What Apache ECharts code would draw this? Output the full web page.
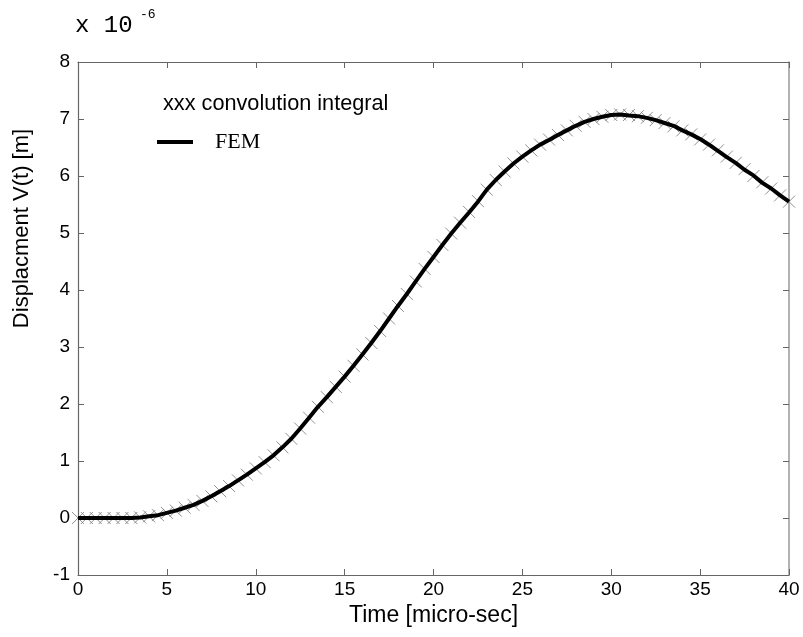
<!DOCTYPE html>
<html>
<head>
<meta charset="utf-8">
<title>Displacement V(t)</title>
<script src="https://cdn.jsdelivr.net/npm/echarts@6/dist/echarts.min.js"></script>
<style>
  html, body { margin: 0; padding: 0; background: #fff; }
  #chart { width: 803px; height: 637px; }
</style>
</head>
<body>
<div id="chart"></div>
<script>
// time axis, step 0.5 micro-sec
var timeValues = [];
for (var i = 0; i <= 80; i++) timeValues.push(i * 0.5);

// FEM displacement, units of 1e-6 m
var femValues = [
  0.00, 0.00, 0.00, 0.00, 0.00, 0.00, 0.00, 0.01, 0.03, 0.05,
  0.09, 0.13, 0.18, 0.23, 0.30, 0.38, 0.47, 0.56, 0.66, 0.76,
  0.87, 0.98, 1.10, 1.24, 1.39, 1.57, 1.76, 1.95, 2.12, 2.30,
  2.48, 2.67, 2.87, 3.07, 3.28, 3.50, 3.72, 3.93, 4.15, 4.37,
  4.58, 4.79, 4.99, 5.18, 5.36, 5.55, 5.76, 5.93, 6.08, 6.22,
  6.34, 6.45, 6.55, 6.63, 6.72, 6.80, 6.88, 6.95, 7.00, 7.04,
  7.07, 7.08, 7.06, 7.05, 7.02, 6.98, 6.93, 6.88, 6.80, 6.73,
  6.65, 6.55, 6.44, 6.33, 6.23, 6.11, 6.01, 5.88, 5.78, 5.66,
  5.55
];

// convolution integral (the x markers), same grid
var convValues = [
  0.00, 0.00, 0.00, 0.00, 0.00, 0.00, 0.00, 0.01, 0.03, 0.05,
  0.09, 0.13, 0.18, 0.23, 0.30, 0.38, 0.47, 0.56, 0.66, 0.76,
  0.87, 0.98, 1.10, 1.24, 1.39, 1.57, 1.76, 1.95, 2.12, 2.30,
  2.48, 2.67, 2.87, 3.07, 3.28, 3.50, 3.72, 3.93, 4.15, 4.37,
  4.58, 4.79, 4.99, 5.18, 5.37, 5.56, 5.76, 5.93, 6.08, 6.22,
  6.34, 6.45, 6.55, 6.64, 6.72, 6.80, 6.88, 6.95, 7.00, 7.04,
  7.07, 7.08, 7.07, 7.05, 7.02, 6.98, 6.93, 6.87, 6.80, 6.73,
  6.64, 6.55, 6.45, 6.34, 6.23, 6.12, 6.00, 5.89, 5.78, 5.66,
  5.55
];

var xTicks = { min: 0, max: 40, step: 5 };
var yTicks = { min: -1, max: 8, step: 1 };

function pairs(xs, ys) {
  return xs.map(function (x, k) { return [x, ys[k]]; });
}

var axisColor = '#666';
var fontSans = '"Liberation Sans", Arial, sans-serif';
var fontMono = '"Liberation Mono", "Courier New", monospace';

var myChart = echarts.init(document.getElementById('chart'));

var option = {
  animation: false,
  backgroundColor: '#fff',
  grid: { left: 78, right: 14, top: 62, bottom: 62, containLabel: false },
  legend: {
    data: ['FEM'],
    left: 157,
    top: 131,
    padding: 0,
    icon: 'rect',
    itemWidth: 36,
    itemHeight: 4,
    textStyle: {
      fontFamily: '"Liberation Serif", "Times New Roman", serif',
      fontSize: 22,
      color: '#000',
      padding: [0, 0, 0, 17]
    }
  },
  graphic: [
    {
      type: 'text', left: 163, top: 93,
      style: { text: 'xxx convolution integral', font: '21.7px ' + fontSans, fill: '#000' }
    },
    {
      type: 'text', left: 75, top: 14,
      style: { text: 'x 10', font: '24px ' + fontMono, fill: '#000' }
    },
    {
      type: 'text', left: 140, top: 8,
      style: { text: '-6', font: '13px ' + fontMono, fill: '#000' }
    }
  ],
  xAxis: [
    {
      type: 'value',
      min: xTicks.min, max: xTicks.max, interval: xTicks.step,
      name: 'Time [micro-sec]',
      nameLocation: 'middle',
      nameGap: 24,
      nameTextStyle: { fontFamily: fontSans, fontSize: 23, color: '#000' },
      axisLine: { show: true, onZero: false, lineStyle: { color: axisColor, width: 1.2 } },
      axisTick: { show: true, inside: true, length: 6, lineStyle: { color: axisColor } },
      axisLabel: { margin: 5, fontFamily: fontSans, fontSize: 19, color: '#000' },
      splitLine: { show: false }
    },
    {
      type: 'value', position: 'top',
      min: xTicks.min, max: xTicks.max, interval: xTicks.step,
      axisLine: { show: true, onZero: false, lineStyle: { color: axisColor, width: 1.2 } },
      axisTick: { show: true, inside: true, length: 6, lineStyle: { color: axisColor } },
      axisLabel: { show: false },
      splitLine: { show: false }
    }
  ],
  yAxis: [
    {
      type: 'value',
      min: yTicks.min, max: yTicks.max, interval: yTicks.step,
      name: 'Displacment V(t) [m]',
      nameLocation: 'middle',
      nameGap: 45,
      // label sits above the middle of the axis in the original
      nameTextStyle: { fontFamily: fontSans, fontSize: 22, color: '#000', padding: [0, 0, 0, 180] },
      axisLine: { show: true, onZero: false, lineStyle: { color: axisColor, width: 1.2 } },
      axisTick: { show: true, inside: true, length: 6, lineStyle: { color: axisColor } },
      axisLabel: { margin: 8, fontFamily: fontSans, fontSize: 19, color: '#000' },
      splitLine: { show: false }
    },
    {
      type: 'value', position: 'right',
      min: yTicks.min, max: yTicks.max, interval: yTicks.step,
      axisLine: { show: true, onZero: false, lineStyle: { color: '#999', width: 1.5 } },
      axisTick: { show: true, inside: true, length: 6, lineStyle: { color: axisColor } },
      axisLabel: { show: false },
      splitLine: { show: false }
    }
  ],
  series: [
    {
      name: 'convolution integral',
      type: 'scatter',
      data: pairs(timeValues, convValues),
      symbol: 'path://M0,0L10,10M10,0L0,10',
      symbolSize: 12,
      itemStyle: { color: 'transparent', borderColor: '#777', borderWidth: 1 },
      z: 2
    },
    {
      name: 'FEM',
      type: 'line',
      data: pairs(timeValues, femValues),
      showSymbol: false,
      symbol: 'none',
      color: '#000',
      lineStyle: { color: '#000', width: 4 },
      z: 3
    }
  ]
};

myChart.setOption(option);
</script>
</body>
</html>
